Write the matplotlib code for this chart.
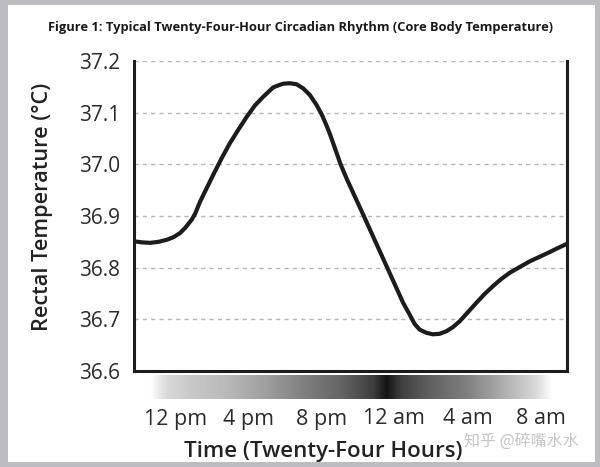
import numpy as np
import matplotlib
matplotlib.use("Agg")
import matplotlib.pyplot as plt
from matplotlib.patches import Rectangle
from matplotlib.colors import LinearSegmentedColormap

# ---- data ----
hours = [9.76, 10.18, 10.63, 11.09, 11.55, 11.91, 12.27, 12.55, 12.91, 13.09, 13.37,
         13.73, 14.09, 14.55, 15.0, 15.46, 15.92, 16.37, 16.83, 17.37, 17.74, 17.92,
         18.28, 18.65, 19.01, 19.38, 19.74, 20.02, 20.29, 20.48, 20.84, 21.06, 21.38, 22.29,
         23.2, 24.11, 24.48, 24.84, 25.11, 25.39, 25.75, 26.11, 26.48, 26.85, 27.21,
         27.57, 28.03, 28.49, 28.94, 29.39, 29.85, 30.31, 30.85, 31.4, 31.95, 32.49,
         32.95, 33.44]
temps = [36.851, 36.849, 36.848, 36.85, 36.854, 36.859, 36.867, 36.877, 36.893, 36.904, 36.928,
         36.954, 36.98, 37.012, 37.041, 37.067, 37.092, 37.114, 37.131, 37.149, 37.154, 37.156,
         37.157, 37.155, 37.147, 37.134, 37.115, 37.097, 37.075, 37.058, 37.022, 37.0, 36.973, 36.903,
         36.832, 36.761, 36.732, 36.709, 36.691, 36.68, 36.674, 36.671, 36.672, 36.677, 36.685,
         36.696, 36.714, 36.732, 36.749, 36.764, 36.778, 36.79, 36.801, 36.812, 36.821, 36.83,
         36.838, 36.846]
xtick_pos = [12, 16, 20, 24, 28, 32]
xtick_labels = ["12 pm", "4 pm", "8 pm", "12 am", "4 am", "8 am"]
ytick_pos = [36.6, 36.7, 36.8, 36.9, 37.0, 37.1, 37.2]
ytick_labels = ["36.6", "36.7", "36.8", "36.9", "37.0", "37.1", "37.2"]
# darkness band (hour, gray level)
band_hours = [9.75, 10.6, 11.5, 13, 15, 17, 19, 21, 22.8, 23.6, 24.4, 26, 28, 30, 31.8, 32.7, 33.45]
band_gray = [1.0, 1.0, 0.85, 0.78, 0.72, 0.62, 0.5, 0.4, 0.25, 0.08, 0.25, 0.38, 0.5, 0.68, 0.85, 1.0, 1.0]

title = "Figure 1: Typical Twenty-Four-Hour Circadian Rhythm (Core Body Temperature)"
ylabel = "Rectal Temperature (°C)"
xlabel = "Time (Twenty-Four Hours)"
watermark = "知乎 @碎嘴水水"

plt.rcParams['font.family'] = ['Open Sans', 'DejaVu Sans']
W, H = 600, 467
X0, X1 = 9.75, 33.45

fig = plt.figure(figsize=(W / 100, H / 100), dpi=100, facecolor='#bdbdc1')
fig.add_artist(Rectangle((8 / W, 1 - 462 / H), (595 - 8) / W, (462 - 5) / H,
                         transform=fig.transFigure, facecolor='white',
                         edgecolor='none', zorder=0))

ax = fig.add_axes([134 / W, 1 - 371 / H, 433 / W, 310 / H])
ax.set_facecolor('white')
ax.plot(hours, temps, color='#1c1c1c', lw=3.0, solid_joinstyle='round',
        solid_capstyle='butt', zorder=3)
ax.set_xlim(X0, X1)
ax.set_ylim(36.6, 37.2)
ax.set_yticks(ytick_pos, ytick_labels)
ax.set_xticks(xtick_pos, xtick_labels)
for y in ytick_pos[1:]:
    ax.axhline(y, color='#b5b5b5', lw=1.0, ls=(0, (3, 3)), zorder=1)
ax.spines['top'].set_visible(False)
for s in ['left', 'right', 'bottom']:
    ax.spines[s].set_linewidth(2.2)
    ax.spines[s].set_color('#1c1c1c')
ax.tick_params(axis='y', length=0, pad=10, labelsize=15, labelcolor='#2b2b2b')
ax.tick_params(axis='x', length=0, pad=27, labelsize=15.5, labelcolor='#2b2b2b')

# gradient band
gax = fig.add_axes([134 / W, 1 - 399 / H, 433 / W, 24 / H])
stops = [((h - X0) / (X1 - X0), (g, g, g)) for h, g in zip(band_hours, band_gray)]
cmap = LinearSegmentedColormap.from_list('band', stops)
gax.imshow(np.linspace(0, 1, 800)[None, :], cmap=cmap, aspect='auto',
           extent=[X0, X1, 0, 1], vmin=0, vmax=1)
gax.set_xlim(X0, X1)
gax.axis('off')

fig.text(300 / W, 1 - 27 / H, title, ha='center', va='center',
         fontsize=9.3, fontweight='bold', color='#1a1a1a')
fig.text(42 / W, 1 - 207 / H, ylabel, rotation=90, ha='center', va='center',
         fontsize=15.7, fontweight='semibold', color='#222222')
fig.text(323 / W, 1 - 451 / H, xlabel, ha='center', va='center',
         fontsize=16, fontweight='semibold', color='#222222')
fig.text(521 / W, 1 - 442 / H, watermark, ha='center', va='center',
         fontsize=11.5, color='#c4c4c4', family=['Noto Sans CJK SC', 'DejaVu Sans'])

fig.savefig('out.png', dpi=100, facecolor=fig.get_facecolor())
